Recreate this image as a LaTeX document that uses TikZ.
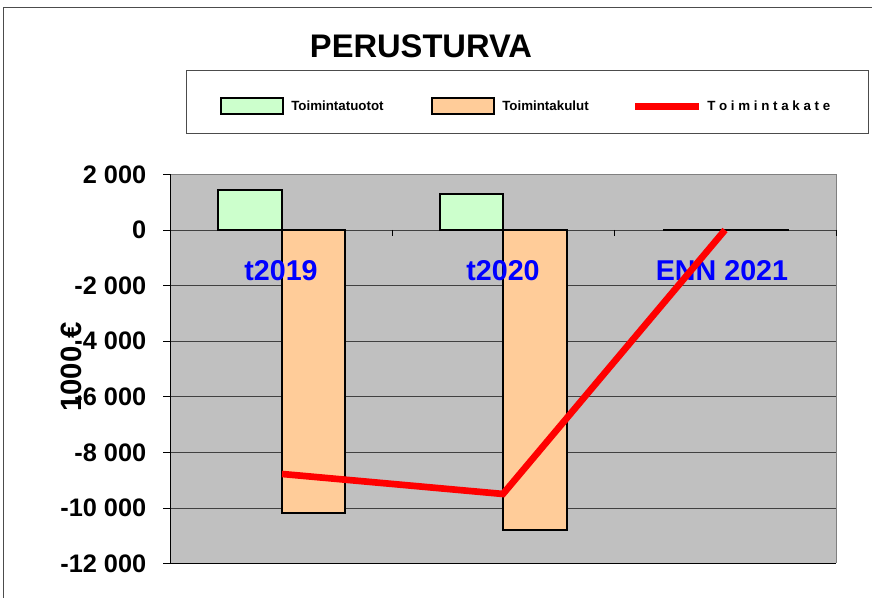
\documentclass[tikz,border=0pt]{standalone}
\usepackage{fontspec}
\setmainfont{Liberation Sans}
\usepackage{tikz}
\usetikzlibrary{calc}
\definecolor{tuotot}{HTML}{CCFFCC}
\definecolor{kulut}{HTML}{FFCC99}
\definecolor{kate}{HTML}{FF0000}
\definecolor{plotbg}{HTML}{C0C0C0}
\definecolor{catblue}{HTML}{0000FF}
\tikzset{
  ticklab/.style={anchor=east, font=\bfseries\fontsize{19}{19}\selectfont},
  catlab/.style={font=\bfseries\fontsize{21.5}{21.5}\selectfont, text=catblue},
  legtext/.style={anchor=west, font=\bfseries\fontsize{10}{10}\selectfont, inner sep=0pt},
  bar/.style={draw=black, line width=1.5pt},
}

\begin{document}
\begin{tikzpicture}[x=0.75pt, y=-0.75pt]
\useasboundingbox (0,0) rectangle (872,598);
% outer frame, title and legend
\draw[gray!60!black, thin] (3,598) -- (3,7) -- (872,7);
\node[font=\bfseries\fontsize{24.5}{24.5}\selectfont] (title) at (421,46) {PERUSTURVA};
\draw[gray!60!black, thin] (186,70) rectangle (868,133);
\draw[bar, fill=tuotot] (221,98) rectangle (283,114);
\node[legtext] (legtuotot) at (291,106) {Toimintatuotot};
\draw[bar, fill=kulut] (432,98) rectangle (494,114);
\node[legtext] (legkulut) at (502,106) {Toimintakulut};
\coordinate (legka) at (635,106.5);
\coordinate (legkb) at (699,106.5);
\draw[kate, line width=5pt] (legka) -- (legkb);
\node[legtext] (legkate) at (707,106) {T o i m i n t a k a t e};
\node[rotate=90, font=\bfseries\fontsize{22}{22}\selectfont] (ytitle) at (71,367) {1000 €};

% plot area, values in thousands
\begin{scope}[shift={(0,230)}, y=20.84pt]
\fill[plotbg] (170,-12) rectangle (836,2);
\foreach \v/\lab in {2/2 000, 0/0, -2/-2 000, -4/-4 000, -6/-6 000, -8/-8 000, -10/-10 000, -12/-12 000}{
  \draw[black!75, thin] (170,\v) -- (836,\v);
  \draw[black, thin] (163,\v) -- (170,\v);
  \node[ticklab] (tick\v) at (151,\v) {\lab};
}
\draw[gray] (170,2) -- (836,2) -- (836,-12);
\draw[black] (170,2) -- (170,-12);
\draw[black] (170,-12) -- (836,-12);
\foreach \x in {392,614,836}
  \draw[black] (\x,0) -- (\x,-0.22);

% bars
\draw[bar, fill=tuotot] (218,0) rectangle (282,1.44);
\draw[bar, fill=kulut] (282,0) rectangle (345,-10.19);
\draw[bar, fill=tuotot] (440,0) rectangle (503,1.30);
\draw[bar, fill=kulut] (503,0) rectangle (567,-10.80);
\draw[line width=1.5pt] (663,0) -- (789,0);

\node[catlab] (c2019) at (281,-1.45) {t2019};
\node[catlab] (c2020) at (503,-1.45) {t2020};
\node[catlab] (c2021) at (722,-1.45) {ENN 2021};

% toimintakate line
\coordinate (k2019) at (282,-8.78);
\coordinate (k2020) at (503,-9.50);
\coordinate (k2021) at (725,0);
\draw[kate, line width=5pt] (k2019) -- (k2020) -- (k2021);
\end{scope}
\end{tikzpicture}
\end{document}
